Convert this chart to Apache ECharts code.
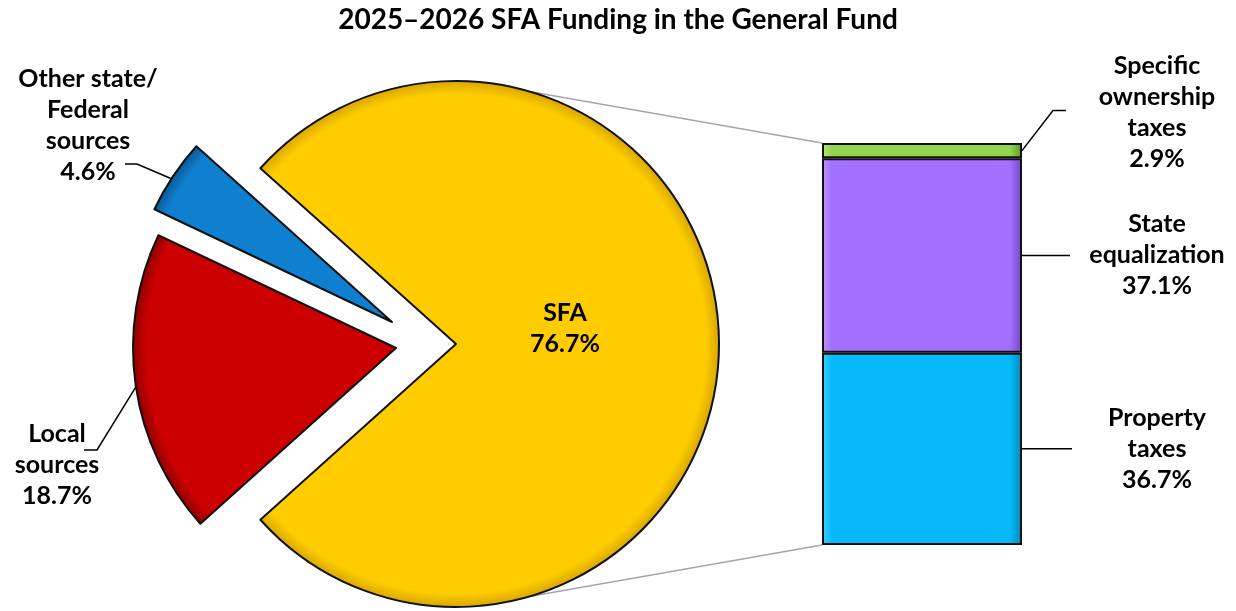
<!DOCTYPE html>
<html>
<head>
<meta charset="utf-8">
<title>2025–2026 SFA Funding in the General Fund</title>
<script src="https://cdn.jsdelivr.net/npm/echarts@6/dist/echarts.min.js"></script>
<style>
  html, body { margin: 0; padding: 0; background: #fff; }
  #main { width: 1236px; height: 611px; }
</style>
</head>
<body>
<div id="main"></div>
<script>
// pie: share of the General Fund
var pieNames = ['SFA', 'Local\nsources', 'Other state/\nFederal\nsources'];
var pieValues = [76.7, 18.7, 4.6];
var pieColors = ['#FFCC00', '#CC0000', '#0F7FD0'];
var pieRims = ['#D9A800', '#8E0000', '#0A5A96'];

// bar: breakdown of SFA (bottom to top)
var barNames = ['Property\ntaxes', 'State\nequalization', 'Specific\nownership\ntaxes'];
var barValues = [36.7, 37.1, 2.9];
var barColors = ['#06B9FA', '#A26FFF', '#94D34F'];
var barLight = ['#3FD2FF', '#BE96FF', '#B4EC78'];
var barDark = ['#0587B8', '#7448C2', '#5E9A2A'];

var font = 'Lato, "Open Sans", sans-serif';
// each slice gets its own centre so the two small ones look pulled out
var pieCenters = [[456, 344], [396, 348], [392, 322]];
var pieRadius = 263;
var grid = { left: 822, top: 143, width: 200, height: 402 };

// where the pie labels sit
var pieLabelPos = [[565, 328], [57, 465], [88, 125]];

var chart = echarts.init(document.getElementById('main'));

var barTotal = barValues.reduce(function (a, b) { return a + b; }, 0);
var startAngle = pieValues[0] / 100 * 360 / 2;

var labelStyle = {
  fontFamily: font,
  fontWeight: 'bold',
  fontSize: 25,
  lineHeight: 31,
  color: '#000'
};

// darker rim near the edge, a cheap stand-in for the bevel
function rimFill(idx) {
  var c = pieCenters[idx];
  return new echarts.graphic.RadialGradient(c[0], c[1], pieRadius, [
    { offset: 0, color: pieColors[idx] },
    { offset: 0.95, color: pieColors[idx] },
    { offset: 1, color: pieRims[idx] }
  ], true);
}

function slicePie(idx) {
  return {
    type: 'pie',
    center: pieCenters[idx],
    radius: pieRadius,
    startAngle: startAngle,
    clockwise: true,
    silent: true,
    emphasis: { disabled: true },
    z: 2 + idx,
    data: pieNames.map(function (n, i) {
      var on = i === idx;
      return {
        name: n,
        value: pieValues[i],
        itemStyle: on
          ? { color: rimFill(i), borderColor: '#111', borderWidth: 2 }
          : { color: 'rgba(0,0,0,0)', borderWidth: 0 },
        label: { show: on }
      };
    }),
    label: Object.assign({
      position: 'inside',
      formatter: function (p) { return p.name + '\n' + p.value.toFixed(1) + '%'; }
    }, labelStyle),
    labelLine: { show: false },
    labelLayout: function () {
      var pos = pieLabelPos[idx];
      return { x: pos[0], y: pos[1], align: 'center', verticalAlign: 'middle' };
    }
  };
}

var barSeries = barNames.map(function (n, i) {
  return {
    name: n,
    type: 'bar',
    stack: 'sfa',
    barWidth: '100%',
    data: [barValues[i]],
    itemStyle: {
      color: new echarts.graphic.LinearGradient(0, 0, 1, 0, [
        { offset: 0, color: barLight[i] },
        { offset: 0.05, color: barColors[i] },
        { offset: 0.94, color: barColors[i] },
        { offset: 1, color: barDark[i] }
      ]),
      borderColor: '#111',
      borderWidth: 2
    },
    silent: true,
    label: Object.assign({
      show: true,
      position: 'right',
      distance: 135,
      align: 'center',
      offset: i === 2 ? [0, -38] : [0, 0],
      formatter: function (p) { return p.seriesName + '\n' + p.value.toFixed(1) + '%'; }
    }, labelStyle)
  };
});

var option = {
  animation: false,
  title: {
    text: '2025–2026 SFA Funding in the General Fund',
    left: 'center',
    top: 1,
    textStyle: { fontFamily: font, fontWeight: 'bold', fontSize: 28, color: '#000' }
  },
  grid: grid,
  xAxis: { type: 'category', data: ['SFA'], show: false },
  yAxis: { type: 'value', min: 0, max: barTotal, show: false },
  series: [slicePie(0), slicePie(1), slicePie(2)].concat(barSeries)
};

chart.setOption(option);

// helper lines: pie-to-bar connectors and label leaders
function piePoint(angleDeg, idx) {
  var c = pieCenters[idx];
  var a = angleDeg * Math.PI / 180;
  return [c[0] + pieRadius * Math.cos(a), c[1] - pieRadius * Math.sin(a)];
}

function barY(v) {
  return chart.convertToPixel({ yAxisIndex: 0 }, v);
}

var barRight = grid.left + grid.width;
var grey = { stroke: '#A6A6A6', lineWidth: 1.5 };
var blk = { stroke: '#000', lineWidth: 1.5, fill: null };

var mids = [];
var acc = 0;
barValues.forEach(function (v) { mids.push(acc + v / 2); acc += v; });

var topPt = piePoint(73.5, 0), botPt = piePoint(-73.5, 0);
var graphics = [
  { type: 'line', shape: { x1: topPt[0], y1: topPt[1], x2: grid.left, y2: grid.top }, style: grey, silent: true },
  { type: 'line', shape: { x1: botPt[0], y1: botPt[1], x2: grid.left, y2: grid.top + grid.height }, style: grey, silent: true },
  // bar leaders
  { type: 'polyline', shape: { points: [[barRight, barY(mids[0])], [barRight + 50, barY(mids[0])]] }, style: blk, silent: true },
  { type: 'polyline', shape: { points: [[barRight, barY(mids[1])], [barRight + 48, barY(mids[1])]] }, style: blk, silent: true },
  { type: 'polyline', shape: { points: [[barRight, barY(mids[2])], [barRight + 31, barY(mids[2]) - 40], [barRight + 44, barY(mids[2]) - 40]] }, style: blk, silent: true },
  // pie leaders
  { type: 'polyline', shape: { points: [[125, 164], [137, 164], piePoint(147, 2)] }, style: blk, silent: true },
  { type: 'polyline', shape: { points: [[84, 450], [97, 450], piePoint(188.5, 1)] }, style: blk, silent: true }
];

chart.setOption({ graphic: graphics });
</script>
</body>
</html>
